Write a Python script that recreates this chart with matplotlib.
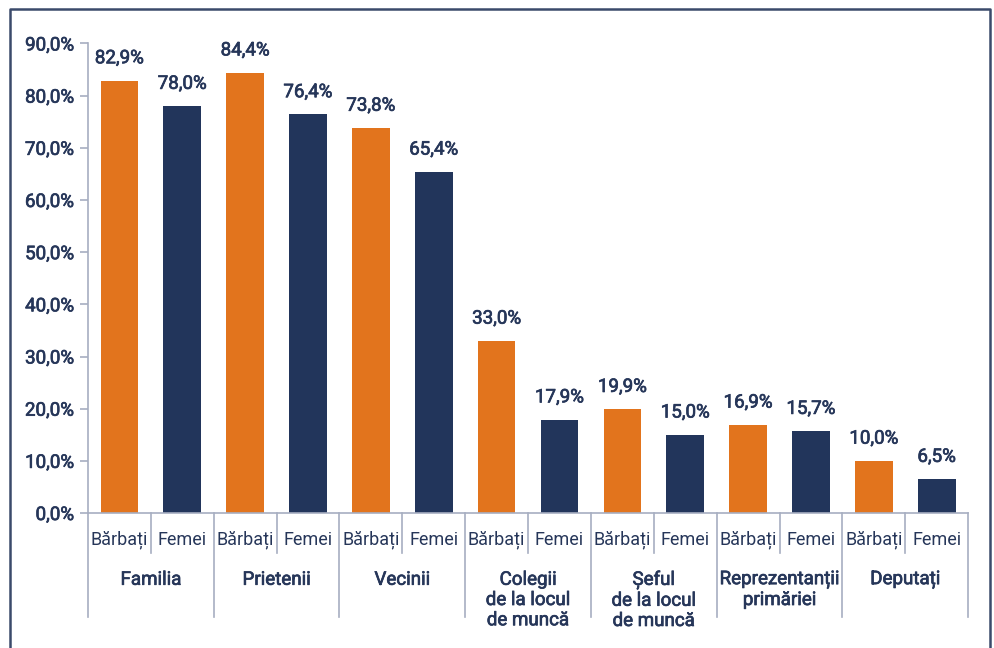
import matplotlib as mpl
mpl.use('Agg')
import matplotlib.pyplot as plt
import matplotlib.transforms as mtransforms
import matplotlib.patheffects as pe
from matplotlib.lines import Line2D
import numpy as np

plt.rcParams['font.family'] = ['Roboto', 'DejaVu Sans']

# data
categories = ["Familia", "Prietenii", "Vecinii",
              "Colegii\nde la locul\nde muncă", "Șeful\nde la locul\nde muncă",
              "Reprezentanții\nprimăriei", "Deputați"]
sub_labels = ["Bărbați", "Femei"]
barbati = [82.9, 84.4, 73.8, 33.0, 19.9, 16.9, 10.0]
femei = [78.0, 76.4, 65.4, 17.9, 15.0, 15.7, 6.5]
y_ticks = [0, 10, 20, 30, 40, 50, 60, 70, 80, 90]

ORANGE = "#E2741D"
NAVY = "#22355B"
TEXT = "#263659"
GRID = "#A7AEC1"
FRAME = "#3B4A6B"

# a thin stroke to fake the medium weight of the original font
MEDIUM = [pe.withStroke(linewidth=0.5, foreground=TEXT)]


def pct(v: float) -> str:
    return f"{v:.1f}%".replace(".", ",")


fig = plt.figure(figsize=(9.94, 6.48), dpi=100)
ax = fig.add_axes([0.0885, 0.2083, 0.974 - 0.0885, 0.9329 - 0.2083])

# interleave the two series: Bărbați, Femei per category
values = []
colors = []
for b, f in zip(barbati, femei):
    values += [b, f]
    colors += [ORANGE, NAVY]
x = np.arange(len(values))

ax.bar(x, values, width=0.6, color=colors, zorder=2)
for xi, v in zip(x, values):
    ax.annotate(pct(v), (xi, v), xytext=(0, 16), textcoords="offset points",
                ha="center", va="center", fontsize=13.5, color=TEXT,
                path_effects=MEDIUM)

ax.set_xlim(-0.5, len(values) - 0.5)
ax.set_ylim(0, 90)
ax.set_yticks(y_ticks)
ax.set_yticklabels([pct(t) for t in y_ticks])
ax.tick_params(axis="y", length=6, width=1.2, color=GRID, labelcolor=TEXT,
               labelsize=13.5, pad=4)
for lab in ax.get_yticklabels():
    lab.set_path_effects(MEDIUM)
ax.set_xticks([])

for side in ["top", "right"]:
    ax.spines[side].set_visible(False)
for side in ["left", "bottom"]:
    ax.spines[side].set_color(GRID)
    ax.spines[side].set_linewidth(1.2)

trans = mtransforms.blended_transform_factory(ax.transData, ax.transAxes)

# minor separators (between Bărbați and Femei)
for k in range(len(categories)):
    ax.plot([2 * k + 0.5, 2 * k + 0.5], [0, -0.085], transform=trans,
            color=GRID, lw=1.2, clip_on=False)
# major separators (between categories)
for k in range(len(categories) + 1):
    ax.plot([2 * k - 0.5, 2 * k - 0.5], [0, -0.2215], transform=trans,
            color=GRID, lw=1.2, clip_on=False)

# sub labels
for xi in x:
    ax.text(xi, -0.0575, sub_labels[xi % 2], transform=trans, ha="center",
            va="center", fontsize=13, color=TEXT)

# category labels
for k, cat in enumerate(categories):
    ax.text(2 * k + 0.5, -0.123, cat, transform=trans, ha="center", va="top",
            fontsize=13.5, color=TEXT, linespacing=1.16,
            multialignment="center", path_effects=MEDIUM)

# outer frame (open at the bottom)
fl, fr, ft = 9.5 / 994, 989.5 / 994, 1 - 8.5 / 648
fig.add_artist(Line2D([fl, fl, fr, fr], [0, ft, ft, 0], transform=fig.transFigure,
                      color=FRAME, lw=1.8))

fig.savefig("out.png", dpi=100)
